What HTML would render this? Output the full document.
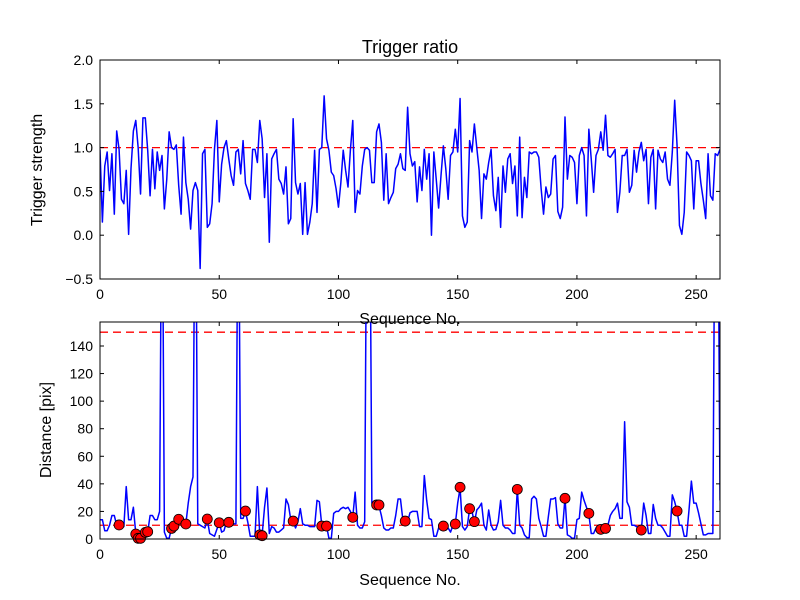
<!DOCTYPE html>
<html><head><meta charset="utf-8"><style>
html,body{margin:0;padding:0;background:#fff}
svg{display:block;font-family:"Liberation Sans","DejaVu Sans",sans-serif}
</style></head><body>
<svg id="fig" width="800" height="600" viewBox="0 0 800 600" xmlns="http://www.w3.org/2000/svg">
<rect x="0" y="0" width="800" height="600" fill="#fff"/>
<defs>
<clipPath id="clipTop"><rect x="100" y="60" width="620" height="219"/></clipPath>
<clipPath id="clipBot"><rect x="100" y="322" width="620" height="217"/></clipPath>
</defs>
<text x="410" y="53" font-size="18" text-anchor="middle">Trigger ratio</text>
<text x="0" y="0" font-size="16" text-anchor="middle" transform="translate(42,170) rotate(-90)">Trigger strength</text>
<text x="410" y="324" font-size="16" text-anchor="middle">Sequence No.</text>
<text x="0" y="0" font-size="16" text-anchor="middle" transform="translate(51,430) rotate(-90)">Distance [pix]</text>
<text x="410" y="585" font-size="16" text-anchor="middle">Sequence No.</text>
<g id="topPlot"></g>
<g id="botPlot"></g>
</svg>
<script>
const seqMax = 260;
const trigger = [
0.98,0.15,0.79,0.95,0.51,0.93,0.24,1.19,0.98,0.41,
0.36,0.74,0.01,0.76,1.19,1.31,1.0,0.47,1.34,1.34,
0.97,0.45,0.98,0.53,0.95,0.74,0.91,0.30,0.64,1.18,
1.0,0.98,1.03,0.57,0.24,1.12,0.60,0.41,0.07,0.51,
0.60,0.51,-0.38,0.93,0.98,0.09,0.13,0.36,0.98,1.31,
0.38,0.81,1.0,1.08,0.87,0.68,0.57,0.95,0.98,0.70,
1.08,0.59,0.51,0.41,0.98,
0.98,
0.83,1.31,1.10,0.43,0.93,-0.08,0.87,0.93,0.98,0.64,
0.59,0.47,0.78,0.13,0.19,1.33,0.60,0.47,0.59,0.01,
0.60,0.01,0.15,0.36,0.97,0.26,0.98,1.0,1.59,
1.10,0.97,0.72,0.68,0.53,0.32,0.60,0.97,0.74,0.55,
0.97,1.31,0.26,0.51,0.47,0.79,0.98,1.0,0.97,0.60,
0.60,1.18,1.27,1.06,0.40,0.93,0.36,0.43,0.49,0.76,
0.81,0.93,0.76,0.74,1.46,0.93,
0.79,0.84,0.38,0.78,0.51,0.98,0.64,0.93,0.0,0.95,
0.64,0.31,0.68,1.02,0.76,0.41,0.91,0.95,1.21,0.95,
1.56,0.22,0.09,0.15,1.08,0.95,1.27,1.0,0.74,0.19,
0.70,0.64,0.83,0.98,0.45,0.28,0.66,0.09,0.79,0.49,
0.87,0.93,0.59,0.79,0.22,1.12,0.20,0.66,0.43,0.95,
0.93,0.95,0.95,0.89,0.53,0.24,0.55,0.43,0.47,0.87,
0.91,0.27,0.19,0.32,
1.35,0.64,0.91,0.89,0.83,0.36,0.91,1.0,0.91,0.22,
1.21,0.87,0.49,0.91,0.98,1.18,0.97,1.37,0.91,0.89,
0.93,0.98,0.26,0.49,0.91,0.91,0.98,0.49,0.57,0.97,
0.72,0.95,1.06,0.85,0.98,0.36,0.89,0.98,0.30,0.97,
0.87,0.83,0.95,0.64,0.57,0.95,1.54,1.02,0.11,0.01,
0.26,0.95,0.91,0.85,0.30,0.85,0.85,0.59,0.40,0.19,
0.93,0.45,0.40,0.93,0.91,0.98];
const triggerThreshold = 1.0;
const topYTicks = [-0.5,0.0,0.5,1.0,1.5,2.0];
const topYLabels = ["\u22120.5","0.0","0.5","1.0","1.5","2.0"];
const xTicks = [0,50,100,150,200,250];

const distance = [
14,14,6,6,10,17,17,10,10,10,
9,38,14,14,23,4,2,1,5,5,
5,17,17,14,14,20,300,5,0.5,0.5,
8,9,12,14,14,10,11,26,38,45,
300,11,10,9,8,14,4,3,2,7,
12,5,6,12,12,11,11,11,300,15,
15,20,12,2,2,2,38,3,3,23,
37,4,9,8,5,5,6.5,8,29,25,
14,13,8,12.5,22,11,10,10,9,9,
9,28,27,10,9,9.4,0.5,0.5,18.6,20,
20,22,23,22,23,20,16,34,10,8,
8,12.5,300,300,26,25,25,24,17,8,
6.5,6.5,8,8,17,29,29,14,13,12.5,
19,20,20,20,9,9,46,28,15,14,
2,2,8,10,9,6.5,8,5,10,11,
26,37,9,6.5,9,22,20,12,21,23,
26,10,6.5,21,10,6.5,7,12.5,28,10,
8,8,6.5,4,4,36,10,8,3,1,
1,29,31,29,15,9,2,2,16,29,
29,30,11,8,8,30,3,2,0.5,0.5,
14,15,34,28,23,18,4,4,8,10,
7,8,8,10,17,20,22,26,15,15,
85,27,23,10,10,9,8,6.5,26,17,
4,4,25,15,10,10,8,5,2,2,
32,27,20,10,10,2,2,21,42,26,
26,19,11,3,3,4,4,4,300,300,28];
const markedSeq = [8,15,16,17,19,20,30,31,33,36,45,50,54,61,67,68,81,93,95,106,116,117,128,144,149,151,155,157,175,195,205,210,212,227,242];
const markedDist = [10.2,3.6,0.5,0.5,4.8,5.3,7.7,9.4,14.3,10.9,14.5,11.8,12.1,20.3,3,2.4,13,9.4,9.4,15.7,24.7,24.7,13,9.4,10.9,37.5,22,12.6,36,29.5,18.6,7,7.7,6.5,20.3];
const distThresholds = [150,10];
const botYTicks = [0,20,40,60,80,100,120,140];
const botYMax = 157.4;

const NS = "http://www.w3.org/2000/svg";
function mk(tag, attrs, parent){const e=document.createElementNS(NS,tag);for(const k in attrs)e.setAttribute(k,attrs[k]);parent.appendChild(e);return e;}

function drawAxes(g, y0, y1, yMin, yMax, yTicks, yLabels, prefix){
  const L=100,R=720;
  const sx=v=>L+(v/seqMax)*(R-L);
  const sy=v=>y1-(v-yMin)/(yMax-yMin)*(y1-y0);
  return {sx,sy,frame:()=>{
    const fr=mk('rect',{x:L,y:y0,width:R-L,height:y1-y0,fill:'none',stroke:'#000','stroke-width':1},g);
    
    
    xTicks.forEach(t=>{
      const x=sx(t);
      mk('line',{x1:x,y1:y1,x2:x,y2:y1-4,stroke:'#000'},g);
      mk('line',{x1:x,y1:y0,x2:x,y2:y0+4,stroke:'#000'},g);
      const tx=mk('text',{x:x,y:y1+20,'font-size':14,'text-anchor':'middle'},g);
      tx.textContent=String(t);
      
      
    });
    yTicks.forEach((t,i)=>{
      const y=sy(t);
      mk('line',{x1:L,y1:y,x2:L+4,y2:y,stroke:'#000'},g);
      mk('line',{x1:R,y1:y,x2:R-4,y2:y,stroke:'#000'},g);
      const tx=mk('text',{x:L-7,y:y+5,'font-size':14,'text-anchor':'end'},g);
      tx.textContent=yLabels[i];
      
      
    });
  }};
}

// top plot
(function(){
  const g=document.getElementById('topPlot');
  const ax=drawAxes(g,60,279,-0.5,2.0,topYTicks,topYLabels,'top');
  const cg=mk('g',{'clip-path':'url(#clipTop)'},g);
  const th=mk('line',{x1:100,x2:720,y1:ax.sy(triggerThreshold),y2:ax.sy(triggerThreshold),stroke:'#ff0000','stroke-width':1.3,'stroke-dasharray':'8,5'},cg);
  
  
  const pts=trigger.map((v,i)=>ax.sx(i).toFixed(2)+','+ax.sy(v).toFixed(2)).join(' ');
  const pl=mk('polyline',{points:pts,fill:'none',stroke:'#0000ff','stroke-width':1.5,'stroke-linejoin':'round'},cg);
  
  
  ax.frame();
})();

// bottom plot
(function(){
  const g=document.getElementById('botPlot');
  const ax=drawAxes(g,322,539,0,botYMax,botYTicks,botYTicks.map(String),'bottom');
  const cg=mk('g',{'clip-path':'url(#clipBot)'},g);
  distThresholds.forEach(t=>{
    const l=mk('line',{x1:100,x2:720,y1:ax.sy(t),y2:ax.sy(t),stroke:'#ff0000','stroke-width':1.3,'stroke-dasharray':'8,5'},cg);
    
    
  });
  const pts=distance.map((v,i)=>ax.sx(i).toFixed(2)+','+ax.sy(v).toFixed(2)).join(' ');
  const pl=mk('polyline',{points:pts,fill:'none',stroke:'#0000ff','stroke-width':1.5,'stroke-linejoin':'round'},cg);
  
  
  markedSeq.forEach((s,i)=>{
    const c=mk('circle',{cx:ax.sx(s),cy:ax.sy(markedDist[i]),r:5,fill:'#ff0000',stroke:'#000','stroke-width':0.8},g);
    
    
  });
  ax.frame();
})();
</script>
</body></html>
